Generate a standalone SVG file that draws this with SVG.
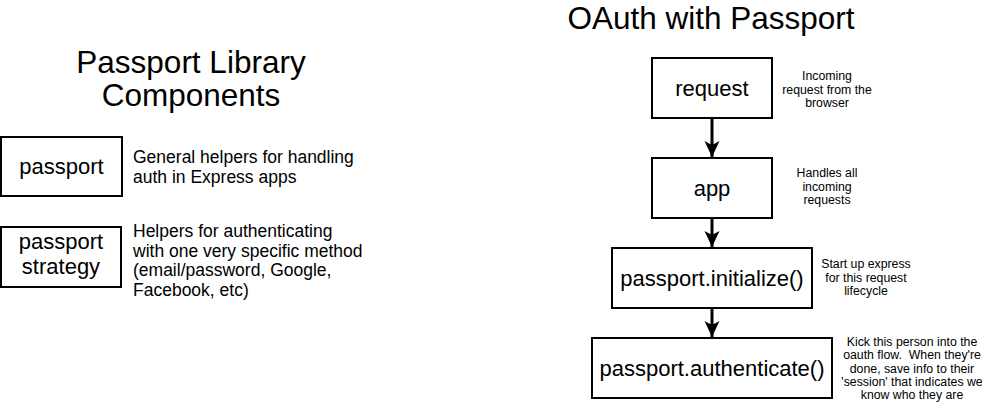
<svg xmlns="http://www.w3.org/2000/svg" width="982" height="404" viewBox="0 0 982 404">
<style>
  text { font-family: "Liberation Sans", Arial, sans-serif; fill: #000; }
  .title { font-size: 31.5px; text-anchor: middle; }
  .box { fill: #fff; stroke: #000; stroke-width: 2; }
  .lbl { font-size: 22px; text-anchor: middle; }
  .desc { font-size: 17.5px; }
  .note { font-size: 12.3px; text-anchor: middle; white-space: pre; }
  .conn { stroke: #000; stroke-width: 3; fill: none; }
</style>
<defs>
  <marker id="arrow" markerUnits="userSpaceOnUse" markerWidth="17" markerHeight="16" refX="16" refY="8" orient="auto" viewBox="0 0 17 16">
    <path d="M0,0.5 L16,8 L0,15.5 L4,8 Z" fill="#000"/>
  </marker>
</defs>
<rect width="982" height="404" fill="#fff"/>

<g id="title-left">
  <text class="title" x="191" y="73">Passport Library</text>
  <text class="title" x="191" y="106">Components</text>
</g>
<g id="title-right">
  <text class="title" x="711" y="29">OAuth with Passport</text>
</g>

<g id="node-passport">
  <rect class="box" x="1" y="137" width="121" height="59"/>
  <text class="lbl" x="61.5" y="174">passport</text>
</g>
<g id="desc-passport">
  <text class="desc" x="133" y="163">General helpers for handling</text>
  <text class="desc" x="133" y="182.5">auth in Express apps</text>
</g>

<g id="node-passport-strategy">
  <rect class="box" x="1" y="227" width="120" height="60"/>
  <text class="lbl" x="61" y="249">passport</text>
  <text class="lbl" x="61" y="274">strategy</text>
</g>
<g id="desc-strategy">
  <text class="desc" x="133" y="237">Helpers for authenticating</text>
  <text class="desc" x="133" y="256.5">with one very specific method</text>
  <text class="desc" x="133" y="276">(email/password, Google,</text>
  <text class="desc" x="133" y="295.5">Facebook, etc)</text>
</g>

<g id="connectors">
  <line class="conn" x1="712" y1="118" x2="712" y2="157" marker-end="url(#arrow)"/>
  <line class="conn" x1="712" y1="218" x2="712" y2="247" marker-end="url(#arrow)"/>
  <line class="conn" x1="712" y1="308" x2="712" y2="337" marker-end="url(#arrow)"/>
</g>

<g id="node-request">
  <rect class="box" x="652" y="58" width="120" height="60"/>
  <text class="lbl" x="712" y="96">request</text>
</g>
<g id="note-request">
  <text class="note" x="827" y="80">Incoming</text>
  <text class="note" x="827" y="93.5">request from the</text>
  <text class="note" x="827" y="107">browser</text>
</g>

<g id="node-app">
  <rect class="box" x="652" y="158" width="120" height="60"/>
  <text class="lbl" x="712" y="196">app</text>
</g>
<g id="note-app">
  <text class="note" x="827" y="177">Handles all</text>
  <text class="note" x="827" y="190.5">incoming</text>
  <text class="note" x="827" y="204">requests</text>
</g>

<g id="node-initialize">
  <rect class="box" x="612" y="248" width="200" height="60"/>
  <text class="lbl" x="712" y="286">passport.initialize()</text>
</g>
<g id="note-initialize">
  <text class="note" x="866" y="268">Start up express</text>
  <text class="note" x="866" y="281.5">for this request</text>
  <text class="note" x="866" y="295">lifecycle</text>
</g>

<g id="node-authenticate">
  <rect class="box" x="592" y="338" width="240" height="60"/>
  <text class="lbl" x="712" y="376">passport.authenticate()</text>
</g>
<g id="note-authenticate">
  <text class="note" x="912" y="346">Kick this person into the</text>
  <text class="note" x="912" y="359.3" xml:space="preserve">oauth flow.  When they're</text>
  <text class="note" x="912" y="372.6">done, save info to their</text>
  <text class="note" x="912" y="385.9">'session' that indicates we</text>
  <text class="note" x="912" y="399.2">know who they are</text>
</g>
</svg>
